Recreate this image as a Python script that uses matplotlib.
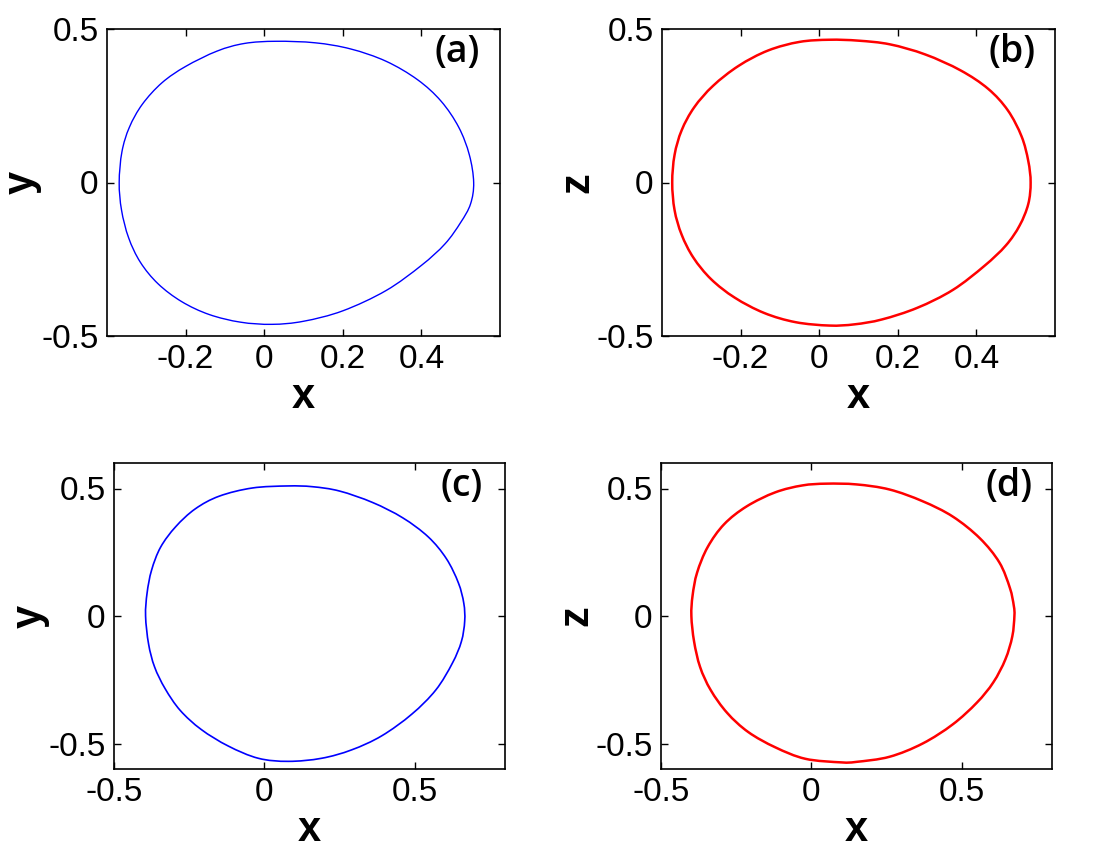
import matplotlib
matplotlib.use("Agg")
import matplotlib.pyplot as plt
from matplotlib.path import Path
from matplotlib.patches import PathPatch

# ---- data, points ordered clockwise from the top ----
# panel (a): x vs y
a_x = [0.03, 0.13, 0.22, 0.31, 0.39, 0.45, 0.495, 0.522, 0.533, 0.525, 0.50, 0.46, 0.40,
       0.31, 0.20, 0.10, 0.02, -0.06, -0.14, -0.21, -0.27, -0.315, -0.345, -0.363, -0.369,
       -0.362, -0.343, -0.31, -0.26, -0.20, -0.12, -0.05]
a_y = [0.460, 0.455, 0.435, 0.395, 0.335, 0.265, 0.18, 0.09, 0.0, -0.07, -0.13, -0.20, -0.27,
       -0.352, -0.418, -0.452, -0.462, -0.455, -0.43, -0.388, -0.33, -0.26, -0.18, -0.09, 0.0,
       0.10, 0.18, 0.255, 0.325, 0.378, 0.428, 0.453]

# panel (b): x vs z
b_x = [0.026, 0.10, 0.18, 0.27, 0.36, 0.43, 0.48, 0.515, 0.532, 0.538, 0.532, 0.51, 0.475,
       0.42, 0.34, 0.25, 0.16, 0.09, 0.026, -0.06, -0.14, -0.215, -0.275, -0.32, -0.35,
       -0.368, -0.374, -0.368, -0.35, -0.318, -0.27, -0.205, -0.13, -0.05]
b_z = [0.465, 0.462, 0.45, 0.417, 0.365, 0.305, 0.235, 0.15, 0.07, 0.0, -0.07, -0.14, -0.205,
       -0.272, -0.35, -0.408, -0.446, -0.462, -0.466, -0.455, -0.425, -0.375, -0.315, -0.245,
       -0.17, -0.09, 0.0, 0.09, 0.17, 0.245, 0.315, 0.38, 0.43, 0.458]

# panel (c): x vs y
c_x = [0.078, 0.16, 0.25, 0.36, 0.46, 0.545, 0.605, 0.645, 0.663, 0.666, 0.655, 0.625, 0.57,
       0.49, 0.39, 0.29, 0.19, 0.08, -0.02, -0.12, -0.21, -0.28, -0.33, -0.365, -0.385,
       -0.395, -0.39, -0.375, -0.345, -0.295, -0.23, -0.15, -0.04]
c_y = [0.51, 0.507, 0.49, 0.445, 0.385, 0.31, 0.225, 0.13, 0.05, -0.02, -0.10, -0.185, -0.29,
       -0.385, -0.47, -0.525, -0.558, -0.57, -0.558, -0.51, -0.445, -0.37, -0.285, -0.20,
       -0.11, 0.0, 0.09, 0.18, 0.27, 0.35, 0.42, 0.47, 0.502]

# panel (d): x vs z
d_x = [0.05, 0.15, 0.26, 0.37, 0.47, 0.56, 0.625, 0.66, 0.673, 0.675, 0.668, 0.645, 0.605,
       0.55, 0.47, 0.37, 0.26, 0.15, 0.099, -0.02, -0.12, -0.21, -0.28, -0.335, -0.37,
       -0.39, -0.399, -0.395, -0.38, -0.345, -0.29, -0.215, -0.12, -0.03]
d_z = [0.519, 0.516, 0.496, 0.45, 0.39, 0.305, 0.21, 0.11, 0.04, 0.0, -0.08, -0.17, -0.26,
       -0.34, -0.425, -0.50, -0.552, -0.572, -0.574, -0.56, -0.515, -0.455, -0.38, -0.29,
       -0.20, -0.10, 0.0, 0.08, 0.17, 0.27, 0.36, 0.43, 0.485, 0.512]

panels = [
    dict(x=a_x, y=a_y, color="#0000FF", lw=1.0, label="(a)", ylabel="y",
         xlim=(-0.4, 0.6), ylim=(-0.5, 0.5), xticks=[-0.2, 0, 0.2, 0.4], yticks=[-0.5, 0, 0.5],
         xtl=["-0.2", "0", "0.2", "0.4"], ytl=["-0.5", "0", "0.5"],
         rect=(107, 29, 500, 336)),
    dict(x=b_x, y=b_z, color="#FF0000", lw=1.8, label="(b)", ylabel="z",
         xlim=(-0.4, 0.6), ylim=(-0.5, 0.5), xticks=[-0.2, 0, 0.2, 0.4], yticks=[-0.5, 0, 0.5],
         xtl=["-0.2", "0", "0.2", "0.4"], ytl=["-0.5", "0", "0.5"],
         rect=(662, 29, 1055, 336)),
    dict(x=c_x, y=c_y, color="#0000FF", lw=1.2, label="(c)", ylabel="y",
         xlim=(-0.5, 0.8), ylim=(-0.6, 0.6), xticks=[-0.5, 0, 0.5], yticks=[-0.5, 0, 0.5],
         xtl=["-0.5", "0", "0.5"], ytl=["-0.5", "0", "0.5"],
         rect=(114, 463, 505, 769)),
    dict(x=d_x, y=d_z, color="#FF0000", lw=1.8, label="(d)", ylabel="z",
         xlim=(-0.5, 0.8), ylim=(-0.6, 0.6), xticks=[-0.5, 0, 0.5], yticks=[-0.5, 0, 0.5],
         xtl=["-0.5", "0", "0.5"], ytl=["-0.5", "0", "0.5"],
         rect=(661, 463, 1052, 769)),
]


def closed_smooth_path(xs, ys):
    """Closed Catmull-Rom curve through the read points, as cubic Bezier segments."""
    n = len(xs)
    verts = [(xs[0], ys[0])]
    codes = [Path.MOVETO]
    for i in range(n):
        p0 = (xs[i - 1], ys[i - 1])
        p1 = (xs[i], ys[i])
        p2 = (xs[(i + 1) % n], ys[(i + 1) % n])
        p3 = (xs[(i + 2) % n], ys[(i + 2) % n])
        c1 = (p1[0] + (p2[0] - p0[0]) / 6.0, p1[1] + (p2[1] - p0[1]) / 6.0)
        c2 = (p2[0] - (p3[0] - p1[0]) / 6.0, p2[1] - (p3[1] - p1[1]) / 6.0)
        verts += [c1, c2, p2]
        codes += [Path.CURVE4] * 3
    return Path(verts, codes)


W, H = 1106, 850
fig = plt.figure(figsize=(W / 100, H / 100), dpi=100)
fig.patch.set_facecolor("white")

tick_font = dict(family="Liberation Sans", size=24)

for p in panels:
    l, t, r, b = p["rect"]
    ax = fig.add_axes([l / W, 1 - b / H, (r - l) / W, (b - t) / H])
    ax.add_patch(PathPatch(closed_smooth_path(p["x"], p["y"]), fill=False,
                           edgecolor=p["color"], lw=p["lw"], joinstyle="round"))
    ax.set_xlim(*p["xlim"])
    ax.set_ylim(*p["ylim"])
    ax.set_xticks(p["xticks"])
    ax.set_yticks(p["yticks"])
    ax.set_xticklabels(p["xtl"], fontdict=tick_font)
    ax.set_yticklabels(p["ytl"], fontdict=tick_font)
    ax.tick_params(direction="in", top=True, right=True, length=5, width=1,
                   pad=6, colors="black")
    for s in ax.spines.values():
        s.set_linewidth(1.2)
    ax.set_xlabel("x", family="Liberation Sans", fontsize=30, fontweight="bold")
    ax.set_ylabel(p["ylabel"], family="Liberation Sans", fontsize=30, fontweight="bold",
                  rotation=90)
    ax.xaxis.set_label_coords(0.5, -0.135)
    ax.yaxis.set_label_coords(-0.165, 0.5)
    ax.text(0.89, 0.925, p["label"], transform=ax.transAxes, ha="center", va="center",
            family="Open Sans", fontsize=27, fontweight="semibold")

fig.savefig("out.png", dpi=100)
